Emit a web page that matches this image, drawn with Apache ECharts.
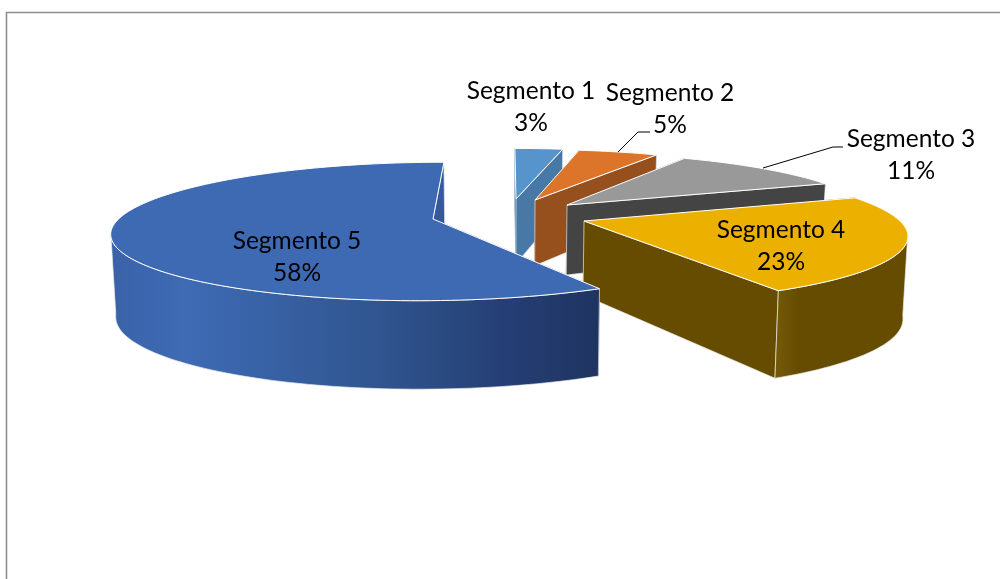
<!DOCTYPE html>
<html>
<head>
<meta charset="utf-8">
<script src="https://cdn.jsdelivr.net/npm/echarts@6/dist/echarts.min.js"></script>
<style>html,body{margin:0;padding:0;background:#fff}#c{width:1000px;height:579px}</style>
</head>
<body>
<div id="c"></div>
<script>
const categories = ['Segmento 1', 'Segmento 2', 'Segmento 3', 'Segmento 4', 'Segmento 5'];
const percentValues = [3, 5, 11, 23, 58];

const topColors = ['#5694CB', '#DC742A', '#999999', '#ECB000', '#3E6AB4'];
const wallColors = ['#4778A6', '#95501E', '#444444', '#654C00', '#35599C'];
// Where each exploded slice's tip sits, and its perspective scale
const sliceTips = [
  {x: 516, y: 199, sx: .95, sy: .89},
  {x: 535, y: 200, sx: .95, sy: .89},
  {x: 567, y: 205, sx: .95, sy: .92},
  {x: 584, y: 221, sx: 1, sy: 1},
  {x: 433, y: 219, sx: .995, sy: 1}
];
const labelSpots = [[531, 91], [670, 93], [911, 139], [781, 230], [297, 241]];
const leaders = [null, [[618, 152], [638, 132], [650, 132]], [[763, 168], [833, 147], [843, 147]], null, null];

const RX = 316, RY = 67, K = 0.18, VX = 508, SKEW = 0.172, BOTTOM_SHRINK = 0.9875;
const dropTable = [[150, 60], [184, 62], [199, 65], [205, 70], [221, 74], [238, 83], [285, 87], [301, 88.5]];

function drop(y) {
  if (y <= dropTable[0][0]) return dropTable[0][1];
  for (let i = 1; i < dropTable.length; i++) {
    const a = dropTable[i - 1], b = dropTable[i];
    if (y <= b[0]) return a[1] + (b[1] - a[1]) * (y - a[0]) / (b[0] - a[0]);
  }
  return dropTable[dropTable.length - 1][1];
}
function rimPoint(t, deg) {
  const r = deg * Math.PI / 180, s = Math.sin(r), c = Math.cos(r), d = 1 + K * c;
  const skew = -SKEW * (t.x - VX);
  return [t.x + t.sx * (RX * s + skew * c) / d, t.y - t.sy * RY * c / d];
}
function under(p) {
  return [VX + (p[0] - VX) * BOTTOM_SHRINK, p[1] + drop(p[1])];
}
function wallFill(i) {
  if (i === 4) return new echarts.graphic.LinearGradient(0, 0, 1, 0, [
    {offset: 0, color: '#3A62A8'}, {offset: .15, color: '#3E6BB5'},
    {offset: .55, color: '#30558F'}, {offset: .8, color: '#253F75'}, {offset: 1, color: '#1F3460'}]);
  if (i === 3) return new echarts.graphic.LinearGradient(0, 0, 1, 0, [
    {offset: 0, color: '#755A08'}, {offset: .18, color: '#654C00'}, {offset: 1, color: '#654C00'}]);
  return wallColors[i];
}
const total = percentValues.reduce((a, b) => a + b, 0);

function renderSlice(params, api) {
  const i = params.dataIndex;
  const v = api.value(0);
  let before = 0;
  for (let j = 0; j < i; j++) before += percentValues[j];
  const a0 = before / total * 360, a1 = (before + v) / total * 360;
  const t = sliceTips[i];
  const tip = [t.x, t.y];
  const rim = [], frontRim = [];
  const n = Math.max(2, Math.ceil((a1 - a0) / 1.5));
  for (let k = 0; k <= n; k++) {
    const a = a0 + (a1 - a0) * k / n;
    const p = rimPoint(t, a);
    rim.push(p);
    if (Math.cos(a * Math.PI / 180) <= -K) frontRim.push(p);
  }
  const first = rim[0], last = rim[rim.length - 1];
  const edge = '#E8E8E8';
  const children = [];
  const face = (pts, fill, stroke, w) => ({type: 'polygon', shape: {points: pts}, style: {fill, stroke, lineWidth: w}});
  children.push(face([tip, first, under(first), under(tip)], wallColors[i], wallColors[i], .5));
  children.push(face([tip, last, under(last), under(tip)], wallColors[i], edge, .7));
  if (frontRim.length > 1) children.push(face(frontRim.concat(frontRim.map(under).reverse()), wallFill(i), edge, .7));
  children.push(face([tip].concat(rim), topColors[i], '#FFFFFF', 1));
  if (leaders[i]) children.push({type: 'polyline', shape: {points: leaders[i]}, style: {fill: null, stroke: '#000', lineWidth: 1}});
  const spot = labelSpots[i];
  children.push({type: 'text', style: {x: spot[0], y: spot[1], text: categories[i], fill: '#000', font: '24.5px Lato', align: 'center', verticalAlign: 'middle'}});
  children.push({type: 'text', style: {x: spot[0], y: spot[1] + 32.5, text: v + '%', fill: '#000', font: '24.5px Lato', align: 'center', verticalAlign: 'middle'}});
  return {type: 'group', children};
}

const chart = echarts.init(document.getElementById('c'), null, {renderer: 'canvas'});
chart.setOption({
  animation: false,
  backgroundColor: '#fff',
  graphic: [
    {type: 'polyline', silent: true, shape: {points: [[6.5, 579], [6.5, 12.5], [1000, 12.5]]}, style: {fill: null, stroke: '#8F8F8F', lineWidth: 1.6}}
  ],
  series: [{
    type: 'custom',
    coordinateSystem: 'none',
    renderItem: renderSlice,
    data: percentValues.map((v, i) => ({name: categories[i], value: [v]}))
  }]
});
</script>
</body>
</html>
